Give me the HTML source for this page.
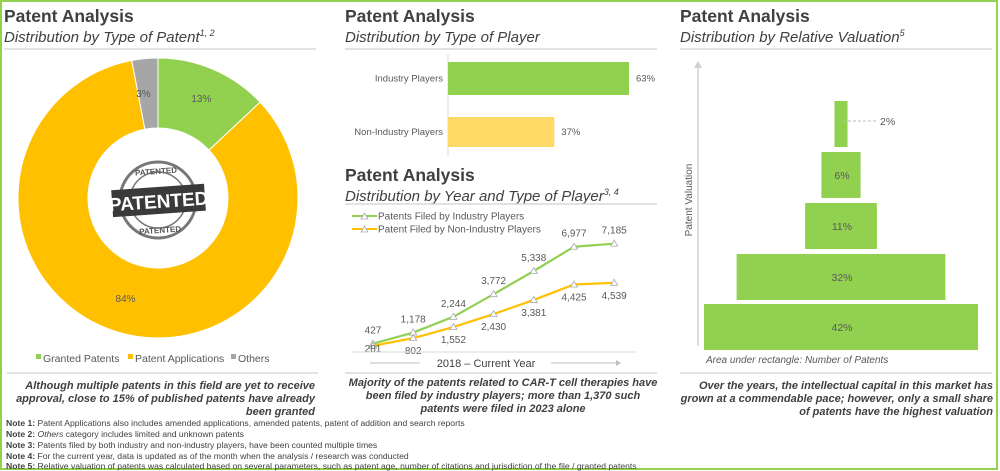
<!DOCTYPE html>
<html><head><meta charset="utf-8">
<style>
body{margin:0;width:1000px;height:471px;overflow:hidden;background:#fff;font-family:"Liberation Sans",sans-serif;}
svg{position:absolute;left:0;top:0}
</style></head>
<body>
<svg width="1000" height="471" viewBox="0 0 1000 471">
<rect x="1" y="1" width="996" height="468" fill="none" stroke="#92d050" stroke-width="2"/>
<g font-family="Liberation Sans, sans-serif" fill="#404040">
<!-- Left panel -->
<text x="4" y="22" font-size="17.5" font-weight="bold">Patent Analysis</text>
<text x="4" y="42" font-size="15" font-style="italic">Distribution by Type of Patent<tspan font-size="9" dy="-6">1, 2</tspan></text>
<line x1="4" y1="49" x2="316" y2="49" stroke="#d9d9d9" stroke-width="1.5"/>
<g id="donut"></g>
<g transform="rotate(-4 158 200)">
<circle cx="158" cy="200" r="38" fill="none" stroke="#777" stroke-width="3"/>
<circle cx="158" cy="200" r="28" fill="none" stroke="#777" stroke-width="1.5"/>
<text x="158" y="174" font-size="8" font-weight="bold" text-anchor="middle" fill="#555">PATENTED</text>
<text x="158" y="233" font-size="8" font-weight="bold" text-anchor="middle" fill="#555">PATENTED</text>
<rect x="112" y="187" width="93" height="27" fill="#3a3a3a"/>
<text x="158.5" y="208" font-size="19" font-weight="bold" text-anchor="middle" fill="#fff">PATENTED</text>
</g>
<g font-size="10.5" fill="#595959">
<rect x="36" y="354" width="5" height="5" fill="#92d050"/><text x="43" y="362">Granted Patents</text>
<rect x="128" y="354" width="5" height="5" fill="#ffc000"/><text x="135" y="362">Patent Applications</text>
<rect x="231" y="354" width="5" height="5" fill="#a6a6a6"/><text x="238" y="362">Others</text>
</g>
<line x1="7" y1="373" x2="318" y2="373" stroke="#d9d9d9" stroke-width="1.5"/>
<g font-size="11" font-weight="bold" font-style="italic" text-anchor="end" fill="#404040">
<text x="315" y="389">Although multiple patents in this field are yet to receive</text>
<text x="315" y="402">approval, close to 15% of published patents have already</text>
<text x="315" y="415">been granted</text>
</g>
<g font-size="8.6" fill="#404040">
<text x="6" y="426"><tspan font-weight="bold">Note 1:</tspan> Patent Applications also includes amended applications, amended patents, patent of addition and search reports</text>
<text x="6" y="437"><tspan font-weight="bold">Note 2:</tspan> <tspan font-style="italic">Others</tspan> category includes limited and unknown patents</text>
<text x="6" y="448"><tspan font-weight="bold">Note 3:</tspan> Patents filed by both industry and non-industry players, have been counted multiple times</text>
<text x="6" y="459"><tspan font-weight="bold">Note 4:</tspan> For the current year, data is updated as of the month when the analysis / research was conducted</text>
<text x="6" y="469"><tspan font-weight="bold">Note 5:</tspan> Relative valuation of patents was calculated based on several parameters, such as patent age, number of citations and jurisdiction of the file / granted patents</text>
</g>
<!-- Middle panel -->
<text x="345" y="22" font-size="17.5" font-weight="bold">Patent Analysis</text>
<text x="345" y="42" font-size="15" font-style="italic">Distribution by Type of Player</text>
<line x1="345" y1="49" x2="657" y2="49" stroke="#d9d9d9" stroke-width="1.5"/>
<g id="bars"></g>
<text x="345" y="181" font-size="17.5" font-weight="bold">Patent Analysis</text>
<text x="345" y="201" font-size="15" font-style="italic">Distribution by Year and Type of Player<tspan font-size="9" dy="-6">3, 4</tspan></text>
<line x1="345" y1="204" x2="657" y2="204" stroke="#d9d9d9" stroke-width="1.5"/>
<g font-size="10" fill="#595959">
<line x1="352" y1="216" x2="377" y2="216" stroke="#92d050" stroke-width="2"/><path d="M361 219 L364.5 213 L368 219Z" fill="#fff" stroke="#aaa" stroke-width=".8"/>
<text x="378" y="219.5">Patents Filed by Industry Players</text>
<line x1="352" y1="229" x2="377" y2="229" stroke="#ffc000" stroke-width="2"/><path d="M361 232 L364.5 226 L368 232Z" fill="#fff" stroke="#aaa" stroke-width=".8"/>
<text x="378" y="232.5">Patent Filed by Non-Industry Players</text>
</g>
<g id="lines"></g>
<line x1="352" y1="352" x2="636" y2="352" stroke="#d9d9d9" stroke-width="1"/>
<g>
<line x1="370" y1="363" x2="420" y2="363" stroke="#bfbfbf"/>
<line x1="551" y1="363" x2="616" y2="363" stroke="#bfbfbf"/>
<path d="M616 360 L621 363 L616 366Z" fill="#bfbfbf"/>
<text x="486" y="367" font-size="11" text-anchor="middle" fill="#404040">2018 – Current Year</text>
</g>
<line x1="345" y1="373" x2="657" y2="373" stroke="#d9d9d9" stroke-width="1.5"/>
<g font-size="11" font-weight="bold" font-style="italic" text-anchor="middle" fill="#404040">
<text x="503" y="386">Majority of the patents related to CAR-T cell therapies have</text>
<text x="503" y="399">been filed by industry players; more than 1,370  such</text>
<text x="503" y="412">patents were filed in 2023 alone</text>
</g>
<!-- Right panel -->
<text x="680" y="22" font-size="17.5" font-weight="bold">Patent Analysis</text>
<text x="680" y="42" font-size="15" font-style="italic">Distribution by Relative Valuation<tspan font-size="9" dy="-6">5</tspan></text>
<line x1="680" y1="49" x2="992" y2="49" stroke="#d9d9d9" stroke-width="1.5"/>
<line x1="698" y1="346" x2="698" y2="68" stroke="#d0d0d0" stroke-width="1.5"/>
<path d="M694 68 L698 61 L702 68Z" fill="#d0d0d0"/>
<text transform="translate(692 200) rotate(-90)" font-size="10" text-anchor="middle" fill="#595959">Patent Valuation</text>
<g id="pyramid"></g>
<text x="706" y="363" font-size="10" font-style="italic" fill="#595959">Area under rectangle: Number of Patents</text>
<line x1="680" y1="373" x2="992" y2="373" stroke="#d9d9d9" stroke-width="1.5"/>
<g font-size="11" font-weight="bold" font-style="italic" text-anchor="end" fill="#404040">
<text x="993" y="389">Over the years, the intellectual capital in this market has</text>
<text x="993" y="402">grown at a commendable pace; however, only a small share</text>
<text x="993" y="415">of patents have the highest valuation</text>
</g>
</g>
</svg>
<script>
const NS="http://www.w3.org/2000/svg";
function mk(tag,attrs,parent){const e=document.createElementNS(NS,tag);for(const k in attrs)e.setAttribute(k,attrs[k]);parent.appendChild(e);return e;}

// Donut data
const donutLabels=["Granted Patents","Patent Applications","Others"];
const donutValues=[13,84,3];
const donutColors=["#92d050","#ffc000","#a6a6a6"];
// Bar data
const barCategories=["Industry Players","Non-Industry Players"];
const barValues=[63,37];
// Line data
const years=["2018","2019","2020","2021","2022","2023","2024"];
const industryValues=[427,1178,2244,3772,5338,6977,7185];
const nonIndustryValues=[281,802,1552,2430,3381,4425,4539];
// Pyramid data
const pyramidLabels=["Highest","High","Medium","Low","Lowest"];
const pyramidValues=[2,6,11,32,42];

// Donut
(function(){
const g=document.getElementById('donut');const cx=158,cy=198,R=140,r=70;
const tot=donutValues.reduce((a,b)=>a+b,0);let a0=0;
donutValues.forEach((v,i)=>{
 const a1=a0+v/tot*2*Math.PI;
 const p=(a,rad)=>[cx+rad*Math.sin(a),cy-rad*Math.cos(a)];
 const [x0,y0]=p(a0,R),[x1,y1]=p(a1,R),[x2,y2]=p(a1,r),[x3,y3]=p(a0,r);
 const lg=(a1-a0)>Math.PI?1:0;
 const s=mk('path',{d:`M${x0} ${y0}A${R} ${R} 0 ${lg} 1 ${x1} ${y1}L${x2} ${y2}A${r} ${r} 0 ${lg} 0 ${x3} ${y3}Z`,fill:donutColors[i],stroke:'#fff','stroke-width':1},g);
 
 
 const am=(a0+a1)/2;let lr=(R+r)/2;
 let [lx,ly]=p(am,lr);
 if(v<5){ly=cy-R+35;lx=cx+Math.sin(am)*R*0.95-2;}
 if(v>=5&&v<20){[lx,ly]=p(am,R*0.78);}
 const t=mk('text',{x:lx,y:ly+4,'font-size':10,'text-anchor':'middle',fill:'#595959'},g);
 t.textContent=v+'%';
 
 
 a0=a1;
});
})();

// Bars
(function(){
const g=document.getElementById('bars');const x0=448,scale=181/63;
mk('line',{x1:x0,y1:54,x2:x0,y2:156,stroke:'#d9d9d9'},g);
const ys=[62,117],hs=[33,30],cols=["#92d050","#ffd966"];
barValues.forEach((v,i)=>{
 const w=v*scale;
 const b=mk('rect',{x:x0,y:ys[i],width:w,height:hs[i],fill:cols[i]},g);
 
 
 const l=mk('text',{x:443,y:ys[i]+hs[i]/2+3,'font-size':9.5,'text-anchor':'end',fill:'#595959'},g);
 l.textContent=barCategories[i];
 
 
 const t=mk('text',{x:x0+w+7,y:ys[i]+hs[i]/2+3,'font-size':9.5,fill:'#595959'},g);
 t.textContent=v+'%';
 
 
});
})();

// Lines
(function(){
const g=document.getElementById('lines');
const xs=i=>373+i*40.2;const ys=v=>350-v*0.0148;
[[industryValues,'#92d050',-10,'industry'],[nonIndustryValues,'#ffc000',16,'non-industry']].forEach(([vals,col,off,nm])=>{
 const pl=mk('polyline',{points:vals.map((v,i)=>xs(i)+','+ys(v)).join(' '),fill:'none',stroke:col,'stroke-width':2.2},g);
 
 
 vals.forEach((v,i)=>{
  const x=xs(i),y=ys(v);
  const m=mk('path',{d:`M${x-3.5} ${y+2.5}L${x} ${y-3.5}L${x+3.5} ${y+2.5}Z`,fill:'#fff',stroke:'#aaa','stroke-width':.8},g);
  
  
  let ly=y+off;
  if(nm==='non-industry'&&i===0)ly=y+6;
  const t=mk('text',{x:x,y:ly,'font-size':10,'text-anchor':'middle',fill:'#595959'},g);
  t.textContent=v.toLocaleString('en-US');
  
  
 });
});
})();

// Pyramid
(function(){
const g=document.getElementById('pyramid');const cx=841,k=274/42;
const tops=[101,152,203,254,304],h=46;
pyramidValues.forEach((v,i)=>{
 const w=Math.max(v*k,8);
 const r=mk('rect',{x:cx-w/2,y:tops[i],width:w,height:h,fill:'#92d050'},g);
 
 
 const t=mk('text',{'font-size':10.5,fill:'#595959'},g);
 if(v<5){
  mk('line',{x1:cx+2,y1:tops[i]+20,x2:cx+35,y2:tops[i]+20,stroke:'#bbb','stroke-dasharray':'3,2'},g);
  t.setAttribute('x',cx+39);t.setAttribute('y',tops[i]+24);
 } else {t.setAttribute('x',cx+1);t.setAttribute('y',tops[i]+h/2+4);t.setAttribute('text-anchor','middle');}
 t.textContent=v+'%';
 
 
});
})();
</script>
</body></html>
